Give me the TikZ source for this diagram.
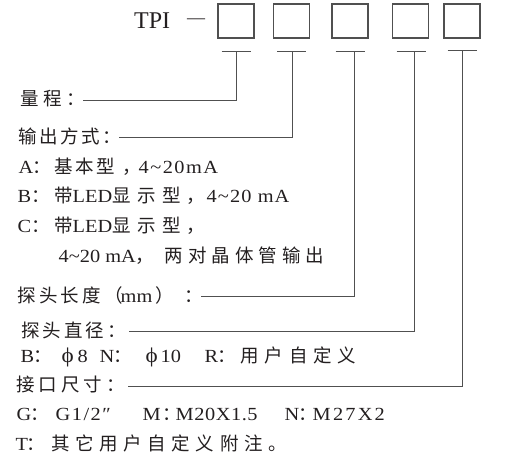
\documentclass[tikz,border=0pt]{standalone}
\usepackage{fontspec}
\setmainfont[FakeStretch=1.1]{Liberation Serif}
\newfontfamily\tpifont{Liberation Serif}
\newfontfamily\cjk{Noto Sans CJK SC}
\newcommand\zh[2][16]{{\cjk\addfontfeature{LetterSpace=#1}#2}}
\newcommand\la[2][0]{{\addfontfeature{LetterSpace=#1}#2}}
\newcommand\at[2]{\rlap{\hspace*{#1pt}#2}}
\newcommand\phisym{{\fontsize{21}{22}\selectfont ϕ}}
\definecolor{ink}{HTML}{231F20}
\definecolor{ln}{HTML}{505050}
\begin{document}
\begin{tikzpicture}[x=1pt,y=-1pt,
  box/.style={draw=ln,line width=1.1pt,minimum width=36pt,minimum height=34pt,inner sep=0pt},
  lbl/.style={anchor=west,inner sep=0pt,text=ink,font=\fontsize{18.5}{22}\selectfont},
  conn/.style={draw=ln,line width=1pt}]
\useasboundingbox (0,0) rectangle (520,463);
\node[lbl,font=\fontsize{24}{26}\tpifont] (tpi) at (134,21) {TPI};
\node[lbl,font=\fontsize{18}{20}\tpifont] (dash) at (187,21) {—};
\node[box] (b1) at (236,21) {};
\node[box] (b2) at (291.5,21) {};
\node[box] (b3) at (350,21) {};
\node[box] (b4) at (410.5,21) {};
\node[box] (b5) at (462,21) {};
\coordinate (c1) at (236,51);
\coordinate (c2) at (291.5,51);
\coordinate (c3) at (350,51);
\coordinate (c4) at (411,51);
\coordinate (c5) at (462,50);
\coordinate (v1) at (236,51);
\coordinate (v2) at (292,51);
\coordinate (v3) at (354,51);
\coordinate (v4) at (414,51);
\coordinate (v5) at (462,50);
\foreach \i in {1,...,5}{\draw[conn] ([xshift=-14.5pt]c\i) -- ([xshift=14.5pt]c\i);}
% labels with connectors
\node[lbl] (l1) at (20,99) {\zh[24]{量程：}};
\node[lbl] (l2) at (18,136) {\zh[14]{输出方式：}};
\node[lbl] (l3) at (18,295) {\at{-1}{\zh[17]{探头长度（}}\at{102}{mm}\at{137}{\zh{）}}\at{166}{\zh{：}}\hspace{182pt}};
\node[lbl] (l4) at (21,330) {\zh[16]{探头直径：}};
\node[lbl] (l5) at (16,385) {\zh[22]{接口尺寸：}};
\coordinate (e1) at (83,100);
\coordinate (e2) at (119,137);
\coordinate (e3) at (201,296);
\coordinate (e4) at (129,331);
\coordinate (e5) at (128,386);
% option lines
\node[lbl] (a) at (18,167) {\at{0}{A}\at{14}{\zh{：}}\at{36}{\zh[13]{基本型}}\at{104}{\zh{，}}\at{120}{\la[8]{4\textasciitilde20mA}}\hspace{209pt}};
\node[lbl] (b) at (17,196) {\at{0}{B}\at{14}{\zh{：}}\at{37}{\zh{带}}\at{55}{LED}\at{95}{\zh[35]{显示型}}\at{169}{\zh{，}}\at{189}{\la[6]{4\textasciitilde20 mA}}\hspace{276pt}};
\node[lbl] (c) at (17,226) {\at{0}{C}\at{14}{\zh{：}}\at{37}{\zh{带}}\at{55}{LED}\at{95}{\zh[35]{显示型}}\at{169}{\zh{，}}\hspace{180pt}};
\node[lbl] (c2) at (58,256) {\at{0}{4\textasciitilde20 mA}\at{77}{\zh{，}}\at{106}{\zh[27]{两对晶体管输出}}\hspace{267pt}};
\node[lbl] (d) at (20,357) {\at{0}{B}\at{13}{\zh{：}}\at{41}{\phisym}\at{57}{8}\at{79}{N}\at{93}{\zh{：}}\at{125}{\phisym}\at{140}{10}\at{184}{R}\at{197}{\zh{：}}\at{220}{\zh[31]{用户自定义}}\hspace{335pt}};
\node[lbl] (g) at (16,414) {\at{0}{G}\at{14}{\zh{：}}\at{39}{\la[8]{G1/2″}}\at{126}{M}\at{146}{\zh{：}}\at{159}{\la[3]{M20X1.5}}\at{268}{N}\at{282}{\zh{：}}\at{296}{\la[12]{M27X2}}\hspace{379pt}};
\node[lbl] (t) at (15,443) {\at{0}{T}\at{11}{\zh{：}}\at{36}{\zh[30]{其它用户自定义附注。}}\hspace{250pt}};
% connectors
\draw[conn] (v1) |- (e1);
\draw[conn] (v2) |- (e2);
\draw[conn] (v3) |- (e3);
\draw[conn] (v4) |- (e4);
\draw[conn] (v5) |- (e5);
\end{tikzpicture}
\end{document}
